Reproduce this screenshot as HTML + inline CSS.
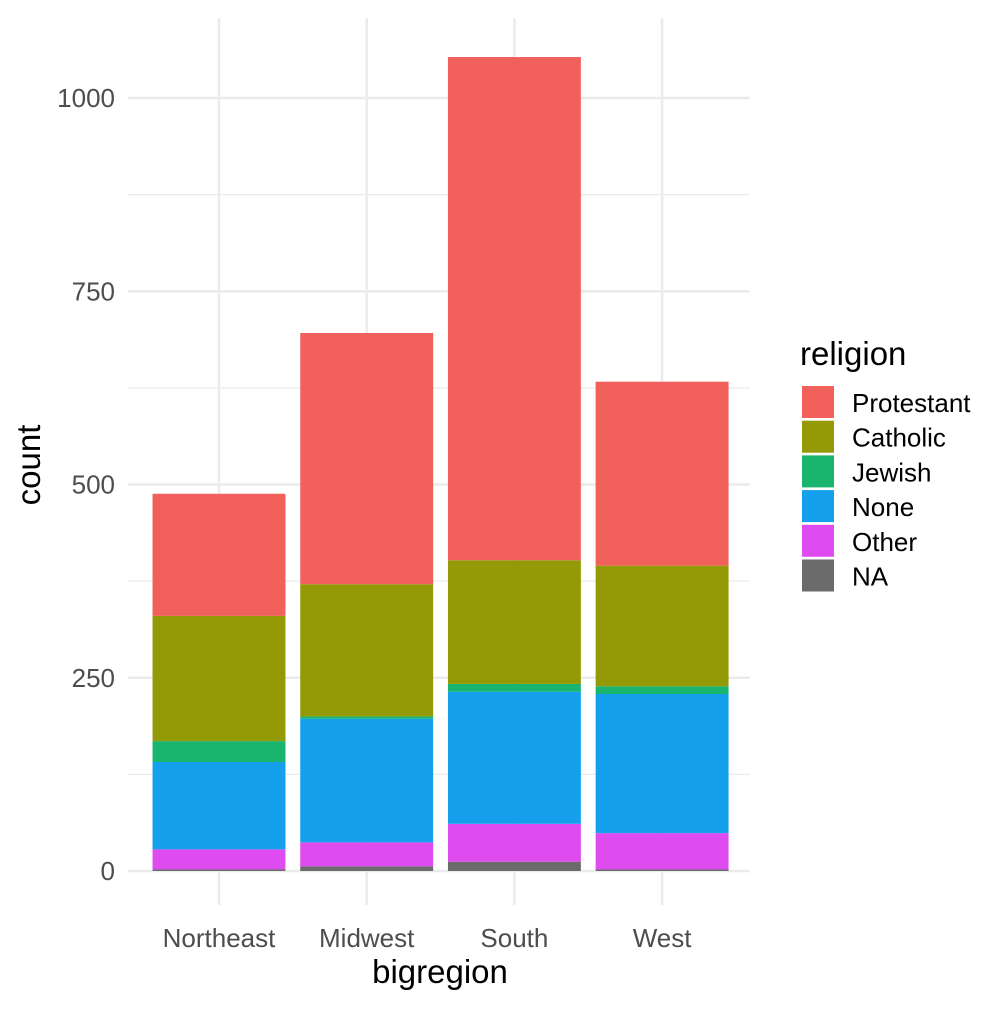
<!DOCTYPE html>
<html><head><meta charset="utf-8"><style>
body{margin:0;background:#fff}
svg text{font-family:"Liberation Sans",Arial,sans-serif}
</style></head><body>
<svg id="c" width="1008" height="1008" viewBox="0 0 1008 1008">
<rect width="1008" height="1008" fill="#fff"/>
<g id="grid"></g><g id="bars"></g><g id="axes"></g><g id="legend"></g>
<text x="440" y="983" font-size="33" text-anchor="middle" fill="#000">bigregion</text>
<text transform="translate(40,465) rotate(-90)" font-size="33" text-anchor="middle" fill="#000">count</text>
</svg>
<script>
const regions=["Northeast","Midwest","South","West"];
const religions=["Protestant","Catholic","Jewish","None","Other","NA"];
const colors=["#F2605C","#939A05","#19B56F","#15A0EE","#DE4CEF","#6B6B6B"];
const protestant=[158,325,651,238];
const catholic=[162,171,160,156];
const jewish=[27,3,10,10];
const none=[113,160,171,180];
const other=[26,31,49,47];
const na=[2,6,12,2];
const yTicks=[0,250,500,750,1000];
const yMinor=[125,375,625,875];
const series=[protestant,catholic,jewish,none,other,na];
const NS="http://www.w3.org/2000/svg";
function mk(t,a,p){const e=document.createElementNS(NS,t);for(const k in a)e.setAttribute(k,a[k]);p.appendChild(e);return e;}
const y=v=>871-v*0.773;
const px0=128,px1=750;
const band=147.7,bx0=219-band/2;
const xc=i=>bx0+band*(i+0.5);
const G=document.getElementById('grid'),B=document.getElementById('bars'),A=document.getElementById('axes'),L=document.getElementById('legend');
yMinor.forEach(v=>{const l=mk('line',{x1:px0,x2:px1,y1:y(v),y2:y(v),stroke:'#ebebeb','stroke-width':1.2},G);

});
yTicks.forEach(v=>{const l=mk('line',{x1:px0,x2:px1,y1:y(v),y2:y(v),stroke:'#ebebeb','stroke-width':2.4},G);


const t=mk('text',{x:115,y:y(v)+9,'font-size':26,'text-anchor':'end',fill:'#4d4d4d'},A);t.textContent=v;

});
regions.forEach((r,i)=>{const l=mk('line',{x1:xc(i),x2:xc(i),y1:18,y2:905,stroke:'#ebebeb','stroke-width':2.4},G);


const t=mk('text',{x:xc(i),y:947,'font-size':26,'text-anchor':'middle',fill:'#4d4d4d'},A);t.textContent=r;


let cum=0;const w=band*0.9;
for(let s=series.length-1;s>=0;s--){const v=series[s][i];
const rc=mk('rect',{x:xc(i)-w/2,y:y(cum+v),width:w,height:y(cum)-y(cum+v),fill:colors[s]},B);


cum+=v;}});
const lt=mk('text',{x:800,y:365,'font-size':33,fill:'#000'},L);lt.textContent='religion';


religions.forEach((r,k)=>{const yy=386+k*34.7;
const rc=mk('rect',{x:802,y:yy,width:32,height:32,fill:colors[k]},L);


const t=mk('text',{x:852,y:yy+26,'font-size':26,fill:'#000'},L);t.textContent=r;

});
</script>
</body></html>
